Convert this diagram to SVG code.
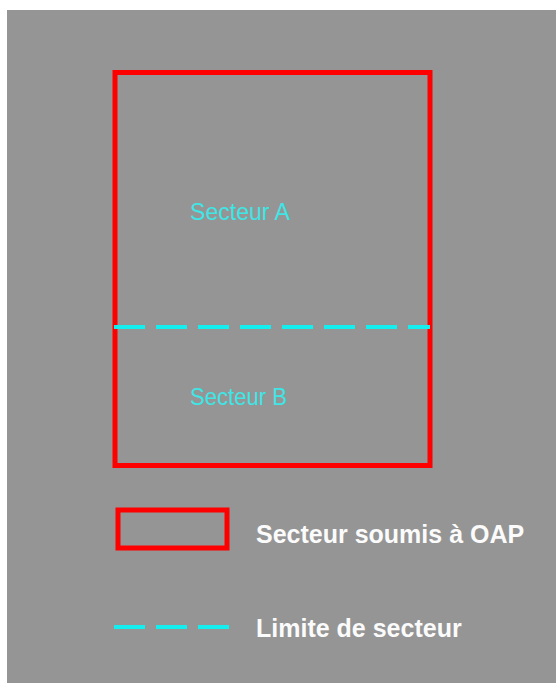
<svg xmlns="http://www.w3.org/2000/svg" width="556" height="683" viewBox="0 0 556 683">
  <style>
    .zone { fill: none; stroke: #ff0000; stroke-width: 5; }
    .limit { fill: none; stroke: #14eeee; stroke-width: 4; stroke-dasharray: 31 11; }
    .sector { font-family: "Liberation Sans", Arial, sans-serif; font-size: 23px; fill: #3ee6e6; }
    .legend { font-family: "Liberation Sans", Arial, sans-serif; font-size: 25px; font-weight: bold; fill: #fbfbfb; }
  </style>
  <!-- page background -->
  <rect x="0" y="0" width="556" height="683" fill="#ffffff"/>
  <rect x="7" y="10" width="549" height="673" fill="#959595"/>

  <!-- OAP sector outline -->
  <g id="oap-zone">
    <rect class="zone" x="115" y="72.5" width="315" height="393"/>
  </g>

  <g id="sector-a">
    <text class="sector" x="190" y="220" textLength="100" lengthAdjust="spacingAndGlyphs">Secteur A</text>
  </g>
  <g id="sector-b">
    <text class="sector" x="190" y="405" textLength="97" lengthAdjust="spacingAndGlyphs">Secteur B</text>
  </g>

  <!-- sector boundary -->
  <g id="connectors">
    <line class="limit" x1="114" y1="327" x2="430" y2="327"/>
  </g>

  <!-- legend -->
  <g id="legend-zone">
    <rect class="zone" x="118" y="510" width="109" height="38"/>
    <text class="legend" x="256" y="543">Secteur soumis à OAP</text>
  </g>
  <g id="legend-limit">
    <line class="limit" x1="114" y1="627" x2="229" y2="627"/>
    <text class="legend" x="256" y="637">Limite de secteur</text>
  </g>
</svg>
